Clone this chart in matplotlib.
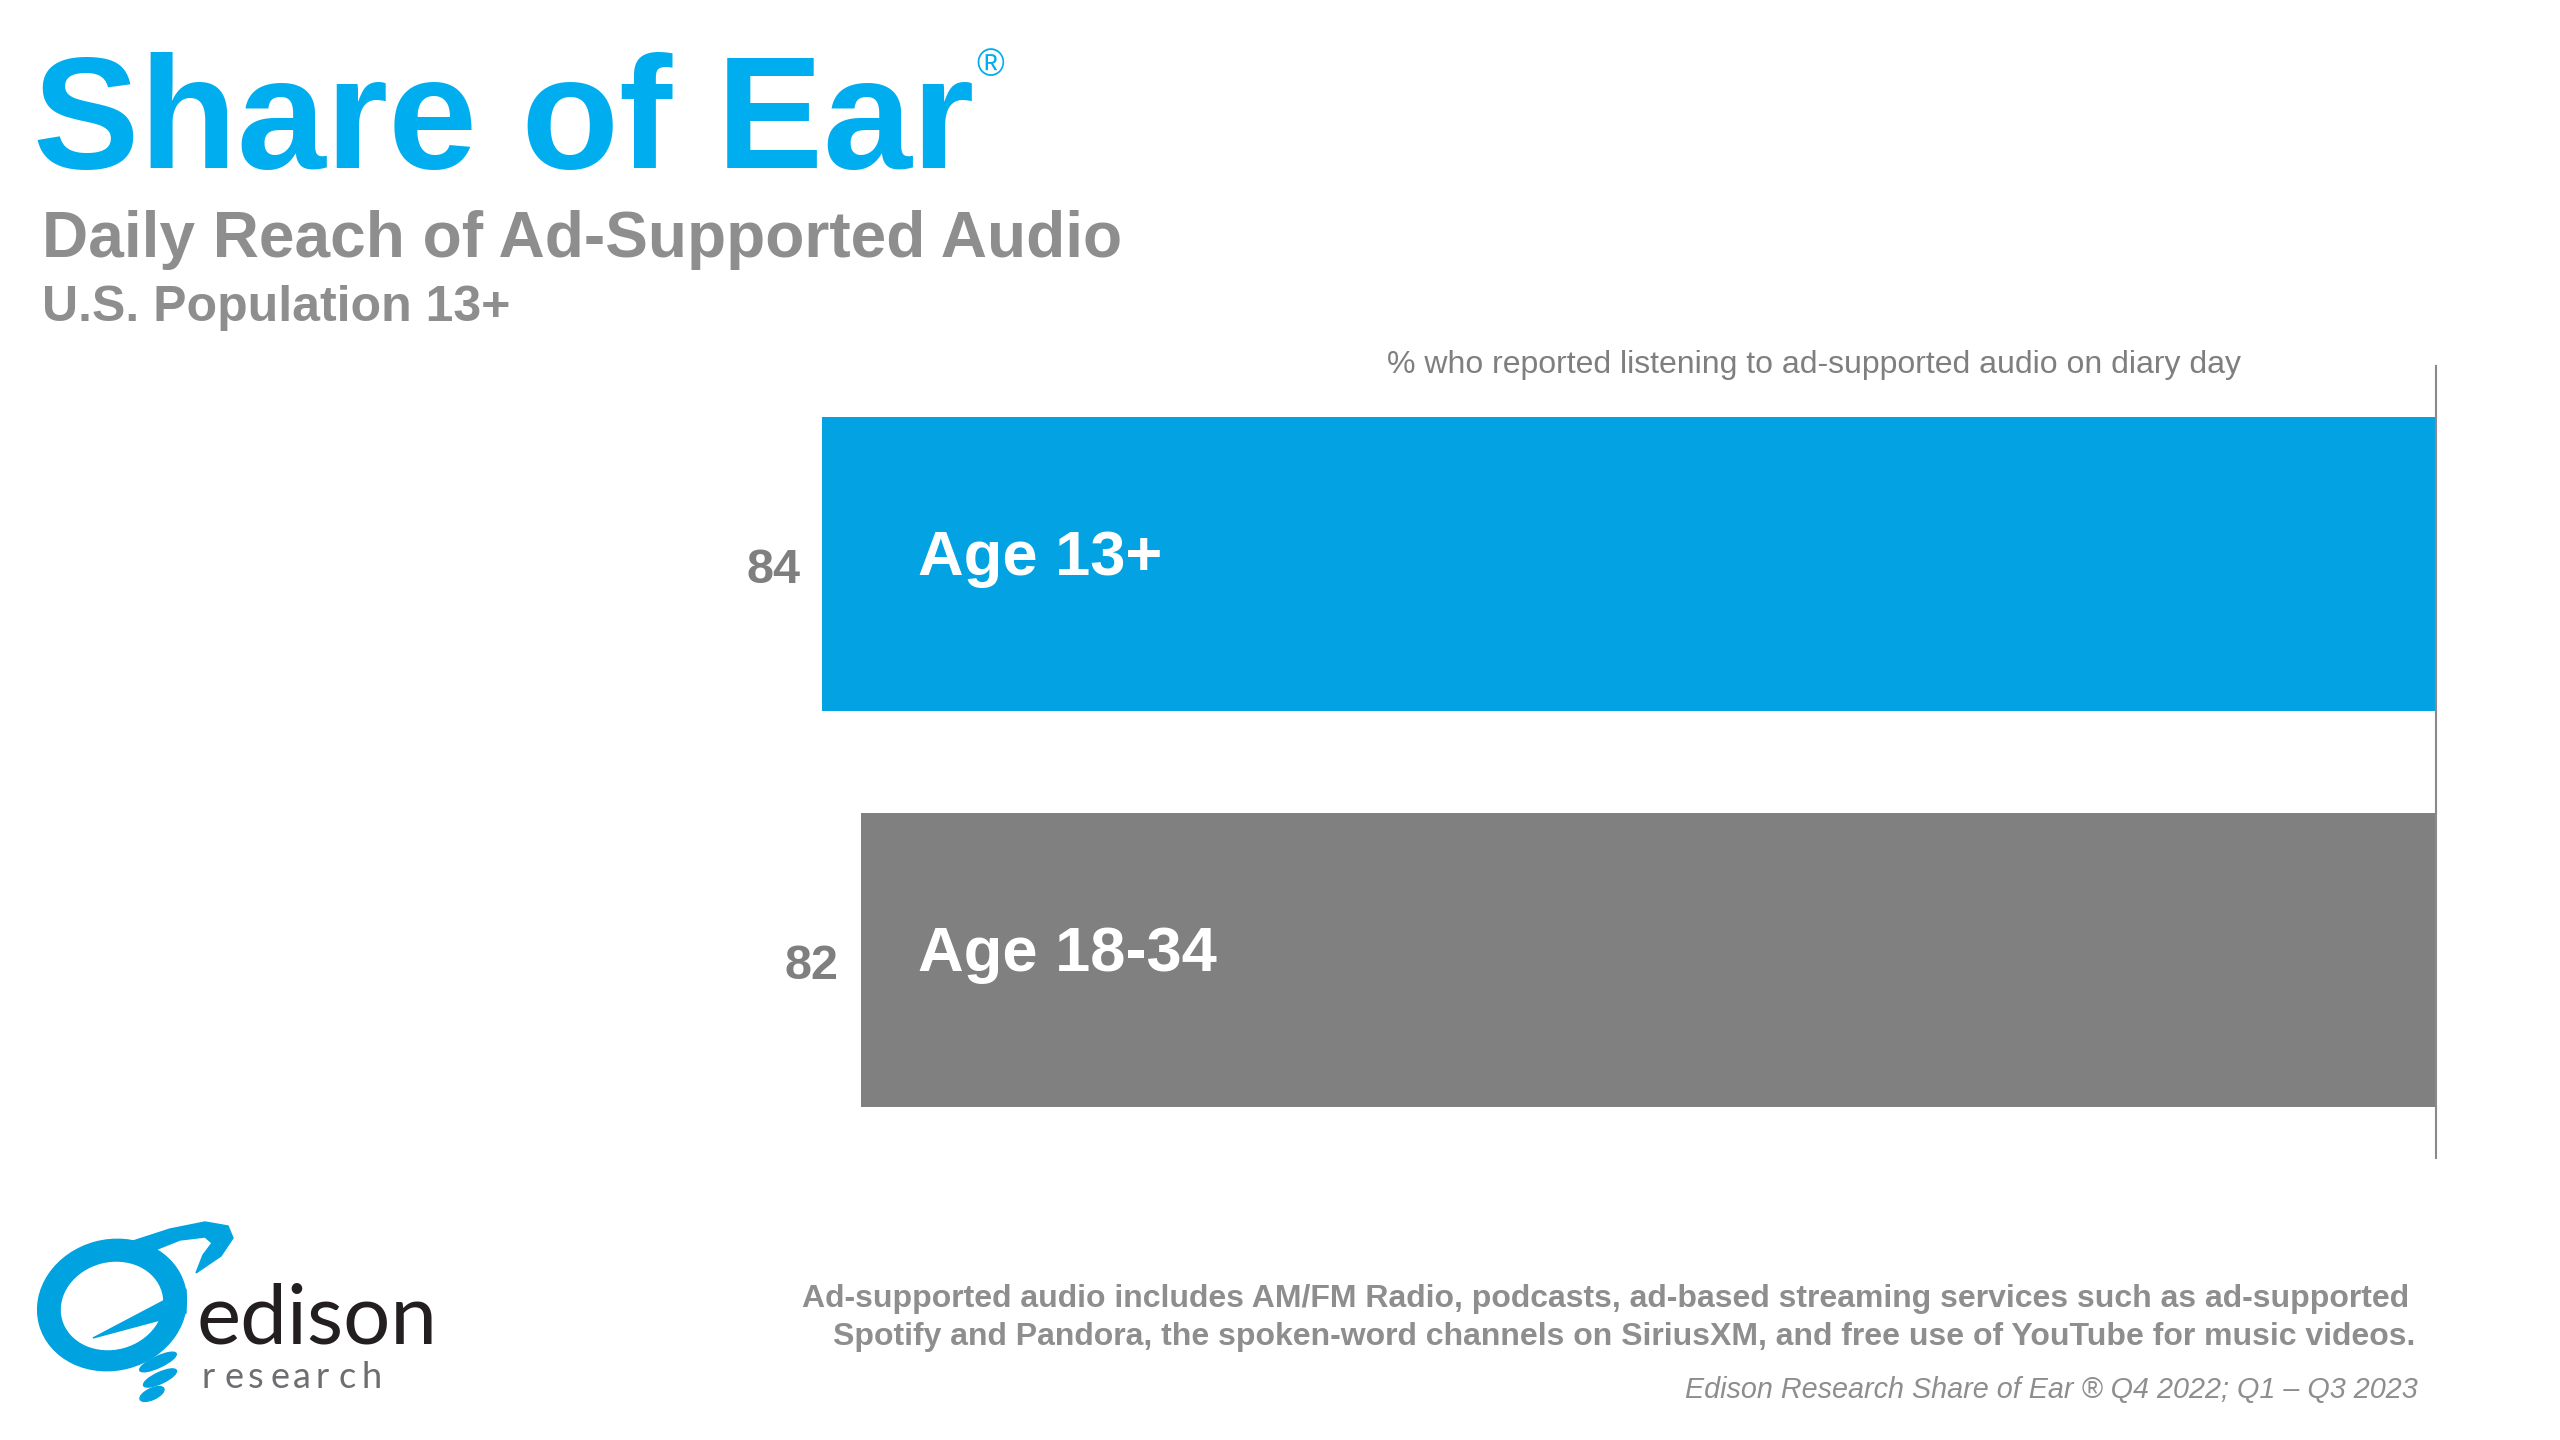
import matplotlib
matplotlib.use("Agg")
import matplotlib.pyplot as plt
from matplotlib.patches import Ellipse, Polygon

# ---- data ----
CATEGORIES = ["Age 13+", "Age 18-34"]
VALUES     = [84, 82]
BAR_COLORS = ["#03A3E3", "#808080"]

TITLE    = "Share of Ear"
SUBTITLE = "Daily Reach of Ad-Supported Audio"
BASE     = "U.S. Population 13+"
NOTE     = "% who reported listening to ad-supported audio on diary day"
FOOT1    = "Ad-supported audio includes AM/FM Radio, podcasts, ad-based streaming services such as ad-supported"
FOOT2    = "Spotify and Pandora, the spoken-word channels on SiriusXM, and free use of YouTube for music videos."
SOURCE   = "Edison Research Share of Ear \u00ae Q4 2022; Q1 \u2013 Q3 2023"

W, H = 2560, 1440
BLUE  = "#00AEEF"
GREY  = "#8E8E8E"
FONT  = "Liberation Sans"

plt.rcParams["font.family"] = [FONT, "DejaVu Sans"]

fig = plt.figure(figsize=(W / 100, H / 100), dpi=100)
fig.patch.set_facecolor("white")


def ftext(x, y, s, **kw):
    """Place text using pixel coordinates measured from the top-left."""
    return fig.text(x / W, 1 - y / H, s, **kw)


#  Header 
ftext(33, 168, TITLE, fontsize=115, fontweight="bold", color=BLUE, va="baseline")
ftext(976, 76, "\u00ae", fontsize=27, color=BLUE, va="baseline")
ftext(42, 257, SUBTITLE, fontsize=46.1, fontweight="bold", color=GREY, va="baseline")
ftext(42, 321, BASE, fontsize=36, fontweight="bold", color=GREY, va="baseline")

#  Bars 
left, right, top, bottom = 515, 2436, 366, 1158
ax = fig.add_axes([left / W, 1 - bottom / H, (right - left) / W, (bottom - top) / H])
ypos = [1, 0]
ax.barh(ypos, VALUES, height=0.742, color=BAR_COLORS, zorder=2)
ax.set_xlim(100, 0)
ax.set_ylim(-0.5, 1.5)
ax.set_xticks([])
ax.set_yticks([])
for side in ("top", "left", "bottom"):
    ax.spines[side].set_visible(False)
ax.spines["right"].set_color("#898989")
ax.spines["right"].set_linewidth(1.5)
ax.set_facecolor("none")

for y, v, cat in zip(ypos, VALUES, CATEGORIES):
    ax.text(v + 1.15, y - 0.048, f"{v}", ha="right", va="baseline",
            fontsize=35, fontweight="bold", color="#7F7F7F")
    ax.text(79.0, y - 0.028, cat, ha="left", va="baseline",
            fontsize=45.5, fontweight="bold", color="white")

ftext(1387, 373, NOTE, fontsize=23, color="#7F7F7F", va="baseline")

#  Footnotes 
ftext(2409, 1307, FOOT1, fontsize=23, fontweight="bold", color=GREY,
      ha="right", va="baseline")
ftext(2415, 1345, FOOT2, fontsize=23, fontweight="bold", color=GREY,
      ha="right", va="baseline")
ftext(2418, 1398, SOURCE, fontsize=20.7, style="italic", color=GREY,
      ha="right", va="baseline")

#  Logo (rough drawing) 
lx0, lx1, ly0, ly1 = 20, 460, 1220, 1430
lg = fig.add_axes([lx0 / W, 1 - ly1 / H, (lx1 - lx0) / W, (ly1 - ly0) / H])
lg.set_xlim(lx0, lx1)
lg.set_ylim(ly1, ly0)
lg.axis("off")
LOGO_BLUE = "#00A3E0"
lg.add_patch(Ellipse((112, 1305), 150, 130, angle=-15, color=LOGO_BLUE))
lg.add_patch(Ellipse((112, 1306), 102, 86, angle=-15, color="white"))
lg.add_patch(Polygon([(130, 1242), (170, 1229), (205, 1222), (228, 1226),
                      (233, 1238), (221, 1256), (196, 1273), (203, 1255),
                      (212, 1243), (205, 1237), (180, 1240), (155, 1250)],
                     closed=True, color=LOGO_BLUE))
lg.add_patch(Polygon([(93, 1338), (186, 1289), (186, 1313)], closed=True,
                     color=LOGO_BLUE))
for cx, cy, w in [(158, 1362, 40), (160, 1378, 36), (152, 1394, 26)]:
    lg.add_patch(Ellipse((cx, cy), w, 11, angle=-25, color=LOGO_BLUE))
lg.text(196, 1344, "edison", fontsize=60, color="#231F20", va="baseline",
        family=["Lato", "DejaVu Sans"])
for i, ch in enumerate("research"):
    lg.text(202 + i * 22.8, 1388, ch, fontsize=26, color="#6D6E71",
            va="baseline", family=["Lato", "DejaVu Sans"])

fig.savefig("out.png", dpi=100, facecolor="white")
plt.close(fig)
